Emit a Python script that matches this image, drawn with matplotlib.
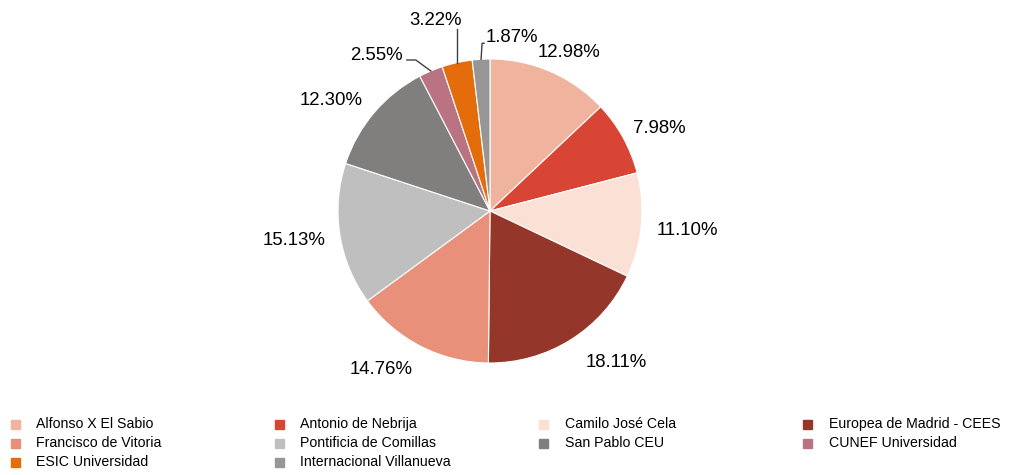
import numpy as np
import matplotlib
matplotlib.use("Agg")
import matplotlib.pyplot as plt
from matplotlib.patches import Rectangle

categories = ["Alfonso X El Sabio", "Antonio de Nebrija", "Camilo José Cela",
              "Europea de Madrid - CEES", "Francisco de Vitoria", "Pontificia de Comillas",
              "San Pablo CEU", "CUNEF Universidad", "ESIC Universidad",
              "Internacional Villanueva"]
values = [12.98, 7.98, 11.10, 18.11, 14.76, 15.13, 12.30, 2.55, 3.22, 1.87]
colors = ["#F0B39E", "#D94535", "#FBE0D6", "#94362A", "#E8907A", "#BFBFBF",
          "#807F7D", "#B97382", "#E46C0A", "#969696"]

plt.rcParams['font.family'] = ['Liberation Sans', 'DejaVu Sans']

W, H = 1018, 475
fig = plt.figure(figsize=(W / 100, H / 100), dpi=100)
cx, cy, R = 490, 211, 152
ax = fig.add_axes([(cx - R) / W, (H - cy - R) / H, 2 * R / W, 2 * R / H])

wedges, _ = ax.pie(values, colors=colors, startangle=90, counterclock=False,
                   radius=1, wedgeprops=dict(edgecolor='white', linewidth=0.8))
ax.set_xlim(-1, 1)
ax.set_ylim(-1, 1)
ax.set_aspect('equal')
ax.axis('off')

fs = 13.4
px = 1.0 / R  # data units per pixel
dy = -2.5 * px
for i, (w, v) in enumerate(zip(wedges, values)):
    th = np.deg2rad((w.theta1 + w.theta2) / 2)
    c, s = np.cos(th), np.sin(th)
    lab = f"{v:.2f}%"
    if v >= 5:
        r = 1.1
        tw, thh = 62 if v >= 10 else 52, 16
        if s < -0.3:
            f = 2.3
        elif c < -0.3 and s > 0.3:
            f = 1.35
        else:
            f = 1.0
        x = r * c + (tw / 2) * c * px * f
        y = r * s + (thh / 2) * s * px + dy
        ax.text(x, y, lab, ha='center', va='center', fontsize=fs, color='#000000')
    else:
        ex, ey = c, s
        if i == 7:   # CUNEF
            pts = [(ex, ey), (ex - 15 * px, ey + 11 * px), (ex - 24 * px, ey + 11 * px)]
            ax.text(pts[-1][0] - 4 * px, pts[-1][1] + 7 * px + dy, lab, ha='right',
                    va='center', fontsize=fs)
        elif i == 8:  # ESIC
            pts = [(ex, ey), (ex, ey + 34 * px)]
            ax.text(ex - 22 * px, ey + 36 * px + dy, lab, ha='center', va='bottom',
                    fontsize=fs)
        else:        # Villanueva
            pts = [(ex, ey), (ex + 1 * px, ey + 16 * px), (ex + 3 * px, ey + 16 * px)]
            ax.text(ex + 5 * px, ey + 24 * px + dy, lab, ha='left', va='center',
                    fontsize=fs)
        xs, ys = zip(*pts)
        ax.plot(xs, ys, color='#404040', lw=1.0, clip_on=False)

# legend, row-major, 4 columns
for i, (name, col) in enumerate(zip(categories, colors)):
    cc, rr = i % 4, i // 4
    x0 = 15 + cc * 264.3
    y0 = 424 + rr * 19
    fig.patches.append(Rectangle(((x0 - 4.5) / W, (H - y0 - 4.5) / H), 9 / W, 9 / H,
                                 transform=fig.transFigure, color=col))
    fig.text((x0 + 21) / W, (H - y0) / H, name, ha='left', va='center', fontsize=10.2)

fig.savefig("out.png", dpi=100)
